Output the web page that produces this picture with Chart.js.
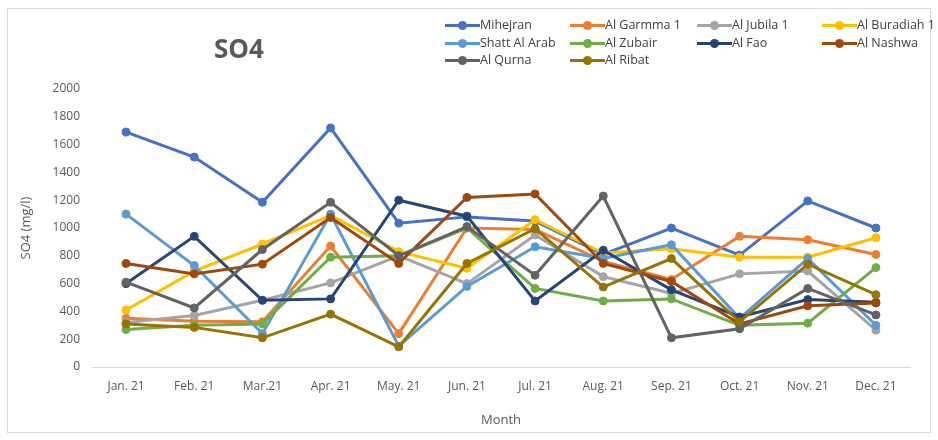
<!DOCTYPE html>
<html>
<head>
<meta charset="utf-8">
<script src="https://cdn.jsdelivr.net/npm/chart.js@4/dist/chart.umd.min.js"></script>
<style>
  html, body { margin: 0; padding: 0; background: #fff; }
  #wrap { position: relative; width: 938px; height: 440px; font-family: "Open Sans", "Liberation Sans", sans-serif; }
  #frame { position: absolute; left: 7px; top: 8px; width: 922px; height: 423px; border: 1px solid #d9d9d9; }
  #chart { position: absolute; left: 0; top: 0; }
  #title { position: absolute; left: 214px; top: 30px; font-size: 26px; font-weight: bold; color: #595959; }
  #legend { position: absolute; left: 0; top: 0; }
  .item { position: absolute; height: 16px; font-size: 12.5px; color: #404040; white-space: nowrap; }
  .item .line { position: absolute; left: 0; top: 7px; width: 35px; height: 3px; }
  .item .dot { position: absolute; left: 13px; top: 4px; width: 9px; height: 9px; border-radius: 50%; }
  .item span.txt { position: absolute; left: 35px; top: -1px; }
</style>
</head>
<body>
<div id="wrap">
  <div id="frame"></div>
  <canvas id="chart" width="938" height="440"></canvas>
  <div id="title">SO4</div>
  <div id="legend"></div>
</div>
<script>
// DATA
const months = ["Jan. 21", "Feb. 21", "Mar.21", "Apr. 21", "May. 21", "Jun. 21", "Jul. 21", "Aug. 21", "Sep. 21", "Oct. 21", "Nov. 21", "Dec. 21"];
const yTicks = [0, 200, 400, 600, 800, 1000, 1200, 1400, 1600, 1800, 2000];

const mihejran = [1690, 1510, 1185, 1720, 1035, 1080, 1050, 810, 1000, 805, 1195, 1000];
const alGarmma = [350, 330, 325, 870, 240, 1000, 990, 760, 630, 940, 915, 810];
const alJubila = [320, 370, 480, 605, 800, 600, 950, 650, 530, 670, 690, 265];
const alBuradiah = [410, 690, 885, 1090, 830, 710, 1060, 820, 850, 790, 790, 930];
const shattAlArab = [1100, 730, 240, 1100, 150, 580, 865, 780, 880, 350, 780, 300];
const alZubair = [270, 300, 310, 790, 800, 1000, 565, 475, 490, 300, 315, 715];
const alFao = [600, 940, 480, 490, 1200, 1085, 475, 840, 555, 360, 485, 465];
const alNashwa = [745, 670, 740, 1075, 745, 1220, 1245, 745, 615, 310, 440, 460];
const alQurna = [610, 425, 845, 1185, 800, 1010, 660, 1230, 210, 275, 565, 375];
const alRibat = [310, 285, 210, 380, 145, 745, 995, 575, 780, 325, 740, 520];

const seriesNames = ["Mihejran", "Al Garmma 1", "Al Jubila 1", "Al Buradiah 1", "Shatt Al Arab", "Al Zubair", "Al Fao", "Al Nashwa", "Al Qurna", "Al Ribat"];
const seriesValues = [mihejran, alGarmma, alJubila, alBuradiah, shattAlArab, alZubair, alFao, alNashwa, alQurna, alRibat];
const seriesColors = ["#4472C4", "#ED7D31", "#A5A5A5", "#FFC000", "#5B9BD5", "#70AD47", "#264478", "#9E480E", "#636363", "#997300"];

const FONT = "'Open Sans', 'Liberation Sans', sans-serif";

// BUILD DATASETS
const datasets = seriesNames.map((name, i) => ({
  label: name,
  data: seriesValues[i],
  borderColor: seriesColors[i],
  backgroundColor: seriesColors[i],
  borderWidth: 3,
  pointRadius: 4,
  pointBorderWidth: 1,
  pointHoverRadius: 4,
  tension: 0,
  order: -i, // later series sit on top, like the original
}));

const chart = new Chart(document.getElementById("chart"), {
  type: "line",
  data: { labels: months, datasets },
  options: {
    responsive: false,
    animation: false,
    layout: { padding: { left: 14, right: 28, top: 89, bottom: 8 } },
    plugins: {
      legend: { display: false },
      title: { display: false },
      tooltip: { enabled: false },
    },
    scales: {
      x: {
        offset: true,
        grid: { display: false, drawTicks: false },
        border: { display: true, color: "#d9d9d9", width: 1 },
        ticks: { color: "#595959", font: { family: FONT, size: 12 }, padding: 12, maxRotation: 0 },
        title: { display: true, text: "Month", color: "#595959", font: { family: FONT, size: 13 }, padding: { top: 12 } },
        afterFit: (scale) => { scale.height = 65; },
      },
      y: {
        min: 0,
        max: 2000,
        afterBuildTicks: (scale) => { scale.ticks = yTicks.map((v) => ({ value: v })); },
        grid: { display: false, drawTicks: false },
        border: { display: false },
        ticks: { color: "#595959", font: { family: FONT, size: 12 }, padding: 12, callback: (v) => String(v) },
        title: { display: true, text: "SO4 (mg/l)", color: "#595959", font: { family: FONT, size: 13 }, padding: { bottom: 0 } },
        afterFit: (scale) => { scale.width = 78; },
      },
    },
  },
});

// LEGEND (html, 4 columns like the original)
const legendCols = [445, 570, 697, 822];
const legendRows = [17, 35, 52];
const legendEl = document.getElementById("legend");
seriesNames.forEach((name, i) => {
  const col = i % 4;
  const row = Math.floor(i / 4);
  const item = document.createElement("div");
  item.className = "item";
  item.style.left = legendCols[col] + "px";
  item.style.top = legendRows[row] + "px";
  item.innerHTML =
    `<div class="line" style="background:${seriesColors[i]}"></div>` +
    `<div class="dot" style="background:${seriesColors[i]}"></div>` +
    `<span class="txt">${name}</span>`;
  legendEl.appendChild(item);
});
</script>
</body>
</html>
